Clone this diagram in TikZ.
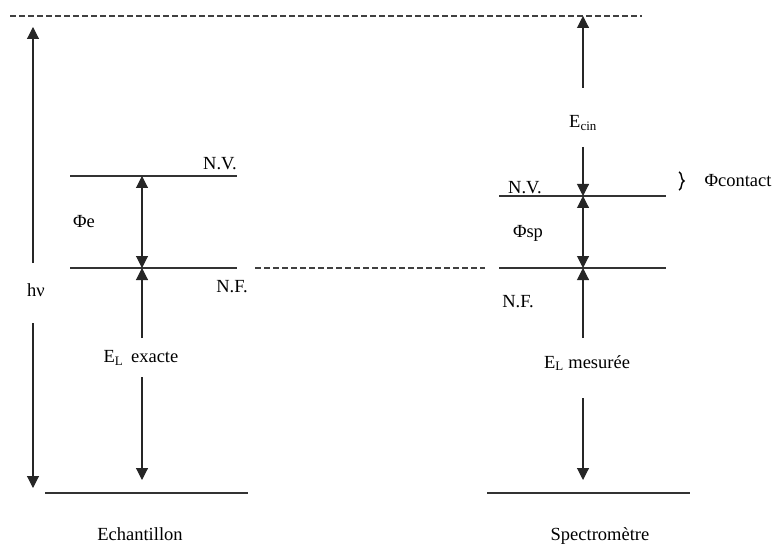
\documentclass[tikz,border=0pt]{standalone}
\usepackage{fontspec}
\setmainfont{Liberation Serif}
\usetikzlibrary{arrows.meta,decorations.pathreplacing}
\begin{document}
\begin{tikzpicture}[x=1pt,y=-1pt,
  lvl/.style={line width=1.1pt, draw=black!80},
  dashline/.style={line width=1.1pt, draw=black!75, dash pattern=on 6pt off 3pt},
  tip/.tip={Triangle[width=12pt,length=12pt]},
  arr/.style={line width=1.1pt, draw=black!85, -tip},
  darr/.style={line width=1.1pt, draw=black!85, tip-tip},
  lbl/.style={inner sep=0pt, font=\fontsize{18.5}{21}\selectfont}
]
\useasboundingbox (0,0) rectangle (775,545);
% levels
\coordinate (vacL) at (10,16);   \coordinate (vacR) at (642,16);
\coordinate (nvLa) at (70,176);  \coordinate (nvLb) at (237,176);
\coordinate (nfLa) at (70,268);  \coordinate (nfLb) at (237,268);
\coordinate (nfMa) at (255,268); \coordinate (nfMb) at (485,268);
\coordinate (nvRa) at (499,196); \coordinate (nvRb) at (666,196);
\coordinate (nfRa) at (499,268); \coordinate (nfRb) at (666,268);
\coordinate (botLa) at (45,493); \coordinate (botLb) at (248,493);
\coordinate (botRa) at (487,493);\coordinate (botRb) at (690,493);
\draw[dashline] (vacL) -- (vacR);
\draw[dashline] (nfMa) -- (nfMb);
\draw[lvl] (nvLa) -- (nvLb);
\draw[lvl] (nfLa) -- (nfLb);
\draw[lvl] (nvRa) -- (nvRb);
\draw[lvl] (nfRa) -- (nfRb);
\draw[lvl] (botLa) -- (botLb);
\draw[lvl] (botRa) -- (botRb);
% labels
\node[lbl] (hv) at (36,290) {hν};
\node[lbl, anchor=east] (nvL) at (237,164) {N.V.};
\node[lbl] (nfL) at (232,287) {N.F.};
\node[lbl] (phie) at (84,222) {Φe};
\node[lbl] (elx) at (141,358) {E\textsubscript{L}\, exacte};
\node[lbl, anchor=base] (ech) at (140,540) {Echantillon};
\node[lbl] (ecin) at (583,123) {E\textsubscript{cin}};
\node[lbl] (nvR) at (525,188) {N.V.};
\node[lbl] (phisp) at (528,233) {Φsp};
\node[lbl] (nfR) at (518,302) {N.F.};
\node[lbl] (elm) at (587,363) {E\textsubscript{L} mesurée};
\node[lbl, anchor=base] (spec) at (600,540) {Spectromètre};
\node[lbl] (phic) at (738,181) {Φcontact};
% arrow end points
\coordinate (hvA) at (33,263); \coordinate (hvT) at (33,27);
\coordinate (hvB) at (33,323); \coordinate (hvD) at (33,488);
\coordinate (eT) at (142,176);  \coordinate (eB) at (142,268);
\coordinate (exA) at (142,338); \coordinate (exB) at (142,377); \coordinate (exD) at (142,480);
\coordinate (cA) at (583,88);   \coordinate (cT) at (583,16);
\coordinate (cB) at (583,147);  \coordinate (cD) at (583,196);
\coordinate (spB) at (583,268);
\coordinate (mA) at (583,338);  \coordinate (mB) at (583,398); \coordinate (mD) at (583,480);
% arrows
\draw[arr] (hvA) -- (hvT);
\draw[arr] (hvB) -- (hvD);
\draw[darr] (eT) -- (eB);
\draw[arr] (exA) -- (eB);
\draw[arr] (exB) -- (exD);
\draw[arr] (cA) -- (cT);
\draw[arr] (cB) -- (cD);
\draw[darr] (cD) -- (spB);
\draw[arr] (mA) -- (spB);
\draw[arr] (mB) -- (mD);
% brace
\coordinate (brT) at (679,172); \coordinate (brB) at (679,190);
\draw[line width=1.4pt, decorate, decoration={brace, amplitude=5pt}] (brT) -- (brB);
\end{tikzpicture}
\end{document}
